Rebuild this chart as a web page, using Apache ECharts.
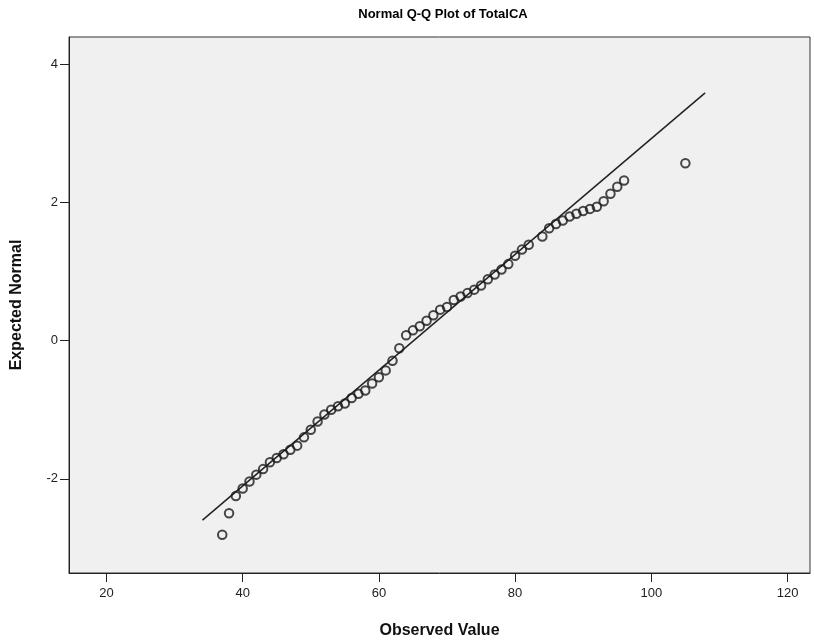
<!DOCTYPE html>
<html>
<head>
<meta charset="utf-8">
<script src="https://cdn.jsdelivr.net/npm/echarts@6/dist/echarts.min.js"></script>
<style>
  html, body { margin: 0; padding: 0; background: #fff; }
  #chart-1 { width: 814px; height: 644px; }
</style>
</head>
<body>
<div id="chart-1"></div>
<script>
var observed = [37, 38, 39, 40, 41, 42, 43, 44, 45, 46, 47, 48, 49, 50, 51, 52, 53, 54, 55, 56,
  57, 58, 59, 60, 61, 62, 63, 64, 65, 66, 67, 68, 69, 70, 71, 72, 73, 74, 75, 76,
  77, 78, 79, 80, 81, 82, 84, 85, 86, 87, 88, 89, 90, 91, 92, 93, 94, 95, 96, 105];
var expected = [-2.81, -2.50, -2.25, -2.14, -2.04, -1.94, -1.86, -1.76, -1.70, -1.645, -1.58, -1.52, -1.40, -1.29, -1.17, -1.07, -1.00, -0.95, -0.91, -0.83,
  -0.77, -0.72, -0.62, -0.53, -0.43, -0.29, -0.11, 0.08, 0.15, 0.21, 0.29, 0.37, 0.45, 0.49, 0.59, 0.64, 0.69, 0.74, 0.80, 0.89,
  0.96, 1.03, 1.11, 1.23, 1.32, 1.39, 1.51, 1.63, 1.69, 1.74, 1.80, 1.84, 1.88, 1.91, 1.94, 2.02, 2.13, 2.23, 2.32, 2.57];

// reference line end points
var lineX = [34.1, 107.9];
var lineY = [-2.6, 3.59];

var xTicks = [20, 40, 60, 80, 100, 120];
var yTicks = [-2, 0, 2, 4];

var dom = document.getElementById("chart-1");
var Chart1 = echarts.init(dom, null, {
  renderer: "canvas",
  useDirtyRect: false,
});

var points = observed.map(function (v, i) {
  return [v, expected[i]];
});
var refLine = lineX.map(function (v, i) {
  return [v, lineY[i]];
});

var font = "Liberation Sans, Arial, sans-serif";

var option = {
  animation: false,
  backgroundColor: "#ffffff",
  title: {
    text: "Normal Q-Q Plot of TotalCA",
    left: 438,
    textAlign: "center",
    top: 3,
    textStyle: {
      fontFamily: font,
      fontSize: 13,
      fontWeight: "bold",
      color: "#000",
    },
  },
  grid: {
    left: 69,
    right: 4,
    top: 37,
    bottom: 61,
    show: true,
    backgroundColor: "#f0f0f0",
    borderColor: "#333",
    borderWidth: 1,
  },
  xAxis: {
    type: "value",
    min: 14.5,
    max: 123.3,
    name: "Observed Value",
    nameLocation: "middle",
    nameGap: 50,
    nameTextStyle: {
      fontFamily: font,
      fontSize: 16,
      fontWeight: "bold",
      color: "#111",
    },
    splitLine: { show: false },
    axisLine: { show: true, onZero: false, lineStyle: { color: "#222", width: 1 } },
    axisTick: {
      show: true,
      length: 9,
      customValues: xTicks,
      lineStyle: { color: "#222" },
    },
    axisLabel: {
      customValues: xTicks,
      margin: 14,
      fontFamily: font,
      fontSize: 13,
      color: "#222",
    },
  },
  yAxis: {
    type: "value",
    min: -3.365,
    max: 4.4,
    name: "Expected Normal",
    nameLocation: "middle",
    nameGap: 44,
    nameTextStyle: {
      fontFamily: font,
      fontSize: 16,
      fontWeight: "bold",
      color: "#111",
    },
    splitLine: { show: false },
    axisLine: { show: true, onZero: false, lineStyle: { color: "#222", width: 1 } },
    axisTick: {
      show: true,
      length: 9,
      customValues: yTicks,
      lineStyle: { color: "#222" },
    },
    axisLabel: {
      customValues: yTicks,
      margin: 11,
      fontFamily: font,
      fontSize: 13,
      color: "#222",
    },
  },
  series: [
    {
      name: "Line",
      type: "line",
      data: refLine,
      showSymbol: false,
      symbol: "none",
      silent: true,
      lineStyle: { color: "#222", width: 1.5 },
      z: 2,
    },
    {
      name: "Observed",
      type: "scatter",
      data: points,
      symbol: "circle",
      symbolSize: 8.5,
      itemStyle: {
        color: "rgba(0,0,0,0)",
        borderColor: "#1a1a1a",
        borderWidth: 2,
      },
      z: 3,
    },
  ],
};

if (option && typeof option === "object") {
  Chart1.setOption(option);
}

window.addEventListener("resize", Chart1.resize);
</script>
</body>
</html>
